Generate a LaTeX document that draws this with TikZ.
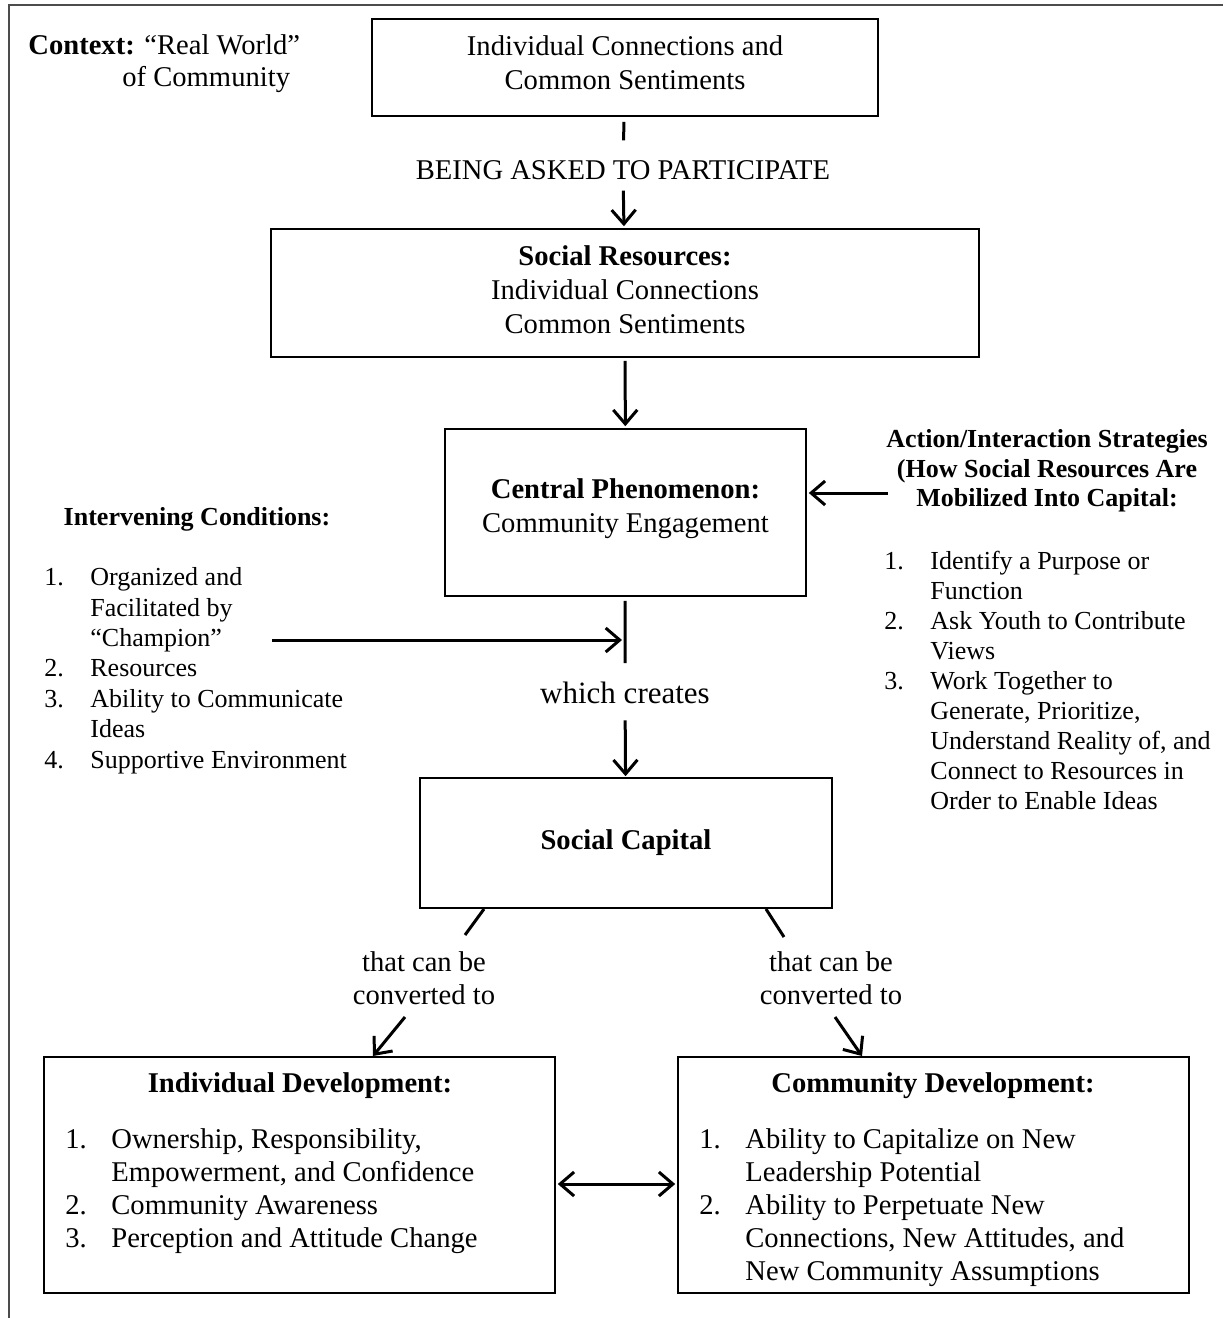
\documentclass[tikz,border=0pt]{standalone}
\usepackage{fontspec}
\setmainfont{Liberation Serif}
\usetikzlibrary{arrows.meta}
\newcommand{\li}[1]{\makebox[23pt][l]{#1}}
\newcommand{\lc}{\hspace*{23pt}}

\begin{document}
\begin{tikzpicture}[x=0.5pt,y=-0.5pt,
  font=\fontsize{14.3}{17}\selectfont,
  box/.style={draw,line width=0.8pt,align=center,inner sep=0pt},
  txt/.style={inner sep=0pt,align=center},
  head/.style={inner sep=0pt,font=\fontsize{14.3}{17}\selectfont\bfseries},
  small/.style={inner sep=0pt,font=\fontsize{13}{15.2}\selectfont},
  conn/.style={line width=1.5pt},
  arr/.style={conn,-{Straight Barb[length=7pt,width=12pt]}},
  arrs/.style={conn,{Straight Barb[length=7pt,width=12pt]}-{Straight Barb[length=7pt,width=12pt]}}]
\useasboundingbox (0,0) rectangle (1223,1318);
\draw [line width=1pt,black!70] (9,1318) -- (9,5) -- (1223,5);

\node [txt,anchor=base west,align=left] (context) at (28,86) {\textbf{Context:} “Real World”\\[-1pt]\hspace*{47pt}of Community};
\node [box,minimum width=253pt,minimum height=48.5pt,text depth=5pt] (top) at (625,67.5) {Individual Connections and\\Common Sentiments};
\node [txt] (asked) at (623,170) {BEING ASKED TO PARTICIPATE};
\node [box,minimum width=354pt,minimum height=64pt,text depth=3.5pt] (socres) at (625,293) {\textbf{Social Resources:}\\Individual Connections\\Common Sentiments};
\node [box,minimum width=180.5pt,minimum height=83.5pt,text depth=7pt] (central) at (625.5,512.5) {\textbf{Central Phenomenon:}\\Community Engagement};
\node [small,align=center,font=\fontsize{13}{14.8}\selectfont\bfseries] (action) at (1047,471) {Action/Interaction Strategies\\(How Social Resources Are\\Mobilized Into Capital:};
\node [small,anchor=base west,align=left,font=\fontsize{13}{15}\selectfont] (actlist) at (884,809) {\li{1.}Identify a Purpose or\\\lc Function\\\li{2.}Ask Youth to Contribute\\\lc Views\\\li{3.}Work Together to\\\lc Generate, Prioritize,\\\lc Understand Reality of, and\\\lc Connect to Resources in\\\lc Order to Enable Ideas};
\node [small,font=\fontsize{13}{15}\selectfont\bfseries] (inthead) at (197,519) {Intervening Conditions:};
\node [small,anchor=base west,align=left] (intlist) at (44,768) {\li{1.}Organized and\\\lc Facilitated by\\\lc “Champion”\\\li{2.}Resources\\\li{3.}Ability to Communicate\\\lc Ideas\\\li{4.}Supportive Environment};
\node [txt,font=\fontsize{15.5}{18}\selectfont] (which) at (625,693) {which creates};
\node [box,minimum width=206pt,minimum height=65pt] (capital) at (626,843) {\textbf{Social Capital}};
\node [txt,font=\fontsize{14.3}{16.5}\selectfont] (convl) at (424,978) {that can be\\converted to};
\node [txt,font=\fontsize{14.3}{16.5}\selectfont] (convr) at (831,978) {that can be\\converted to};
\node [box,minimum width=255.5pt,minimum height=118pt] (indiv) at (299.5,1175) {};
\node [box,minimum width=255.5pt,minimum height=118pt] (comm) at (933.5,1175) {};
\node [head] (indivhead) at (300,1086) {Individual Development:};
\node [head] (commhead) at (933,1086) {Community Development:};
\node [txt,anchor=base west,align=left,font=\fontsize{14.3}{16.5}\selectfont] (indivlist) at (65,1247) {\li{1.}Ownership, Responsibility,\\\lc Empowerment, and Confidence\\\li{2.}Community Awareness\\\li{3.}Perception and Attitude Change};
\node [txt,anchor=base west,align=left,font=\fontsize{14.3}{16.5}\selectfont] (commlist) at (699,1280) {\li{1.}Ability to Capitalize on New\\\lc Leadership Potential\\\li{2.}Ability to Perpetuate New\\\lc Connections, New Attitudes, and\\\lc New Community Assumptions};

\coordinate (joint) at (625,663);
\coordinate (intstart) at (272,640);
\coordinate (actstart) at (888,493);
\coordinate (la) at (484,909);
\coordinate (lb) at (465,935);
\coordinate (lc) at (405,1017);
\coordinate (ld) at (373,1056);
\coordinate (ra) at (766,909);
\coordinate (rb) at (784,937);
\coordinate (rc) at (835,1017);
\coordinate (rd) at (862,1056);

\draw [conn,shorten <=2.5pt,shorten >=9.8pt] (top) -- (asked);
\draw [arr,shorten <=5.3pt,shorten >=1pt] (asked) -- (socres);
\draw [arr,shorten <=1.5pt,shorten >=1pt] (socres) -- (central);
\draw [arr,shorten >=1pt] (actstart) -- (actstart -| central.east);
\draw [conn,shorten <=2pt] (central) -- (joint);
\draw [arr,shorten >=1.5pt] (intstart) -- (intstart -| joint);
\draw [arr,shorten <=8pt,shorten >=0.5pt] (which) -- (capital);
\draw [conn] (la) -- (lb);
\draw [arr] (lc) -- (ld);
\draw [conn] (ra) -- (rb);
\draw [arr] (rc) -- (rd);
\draw [arrs,shorten <=1pt,shorten >=1pt] ([yshift=-4.5pt]indiv.east) -- ([yshift=-4.5pt]comm.west);
\end{tikzpicture}
\end{document}
